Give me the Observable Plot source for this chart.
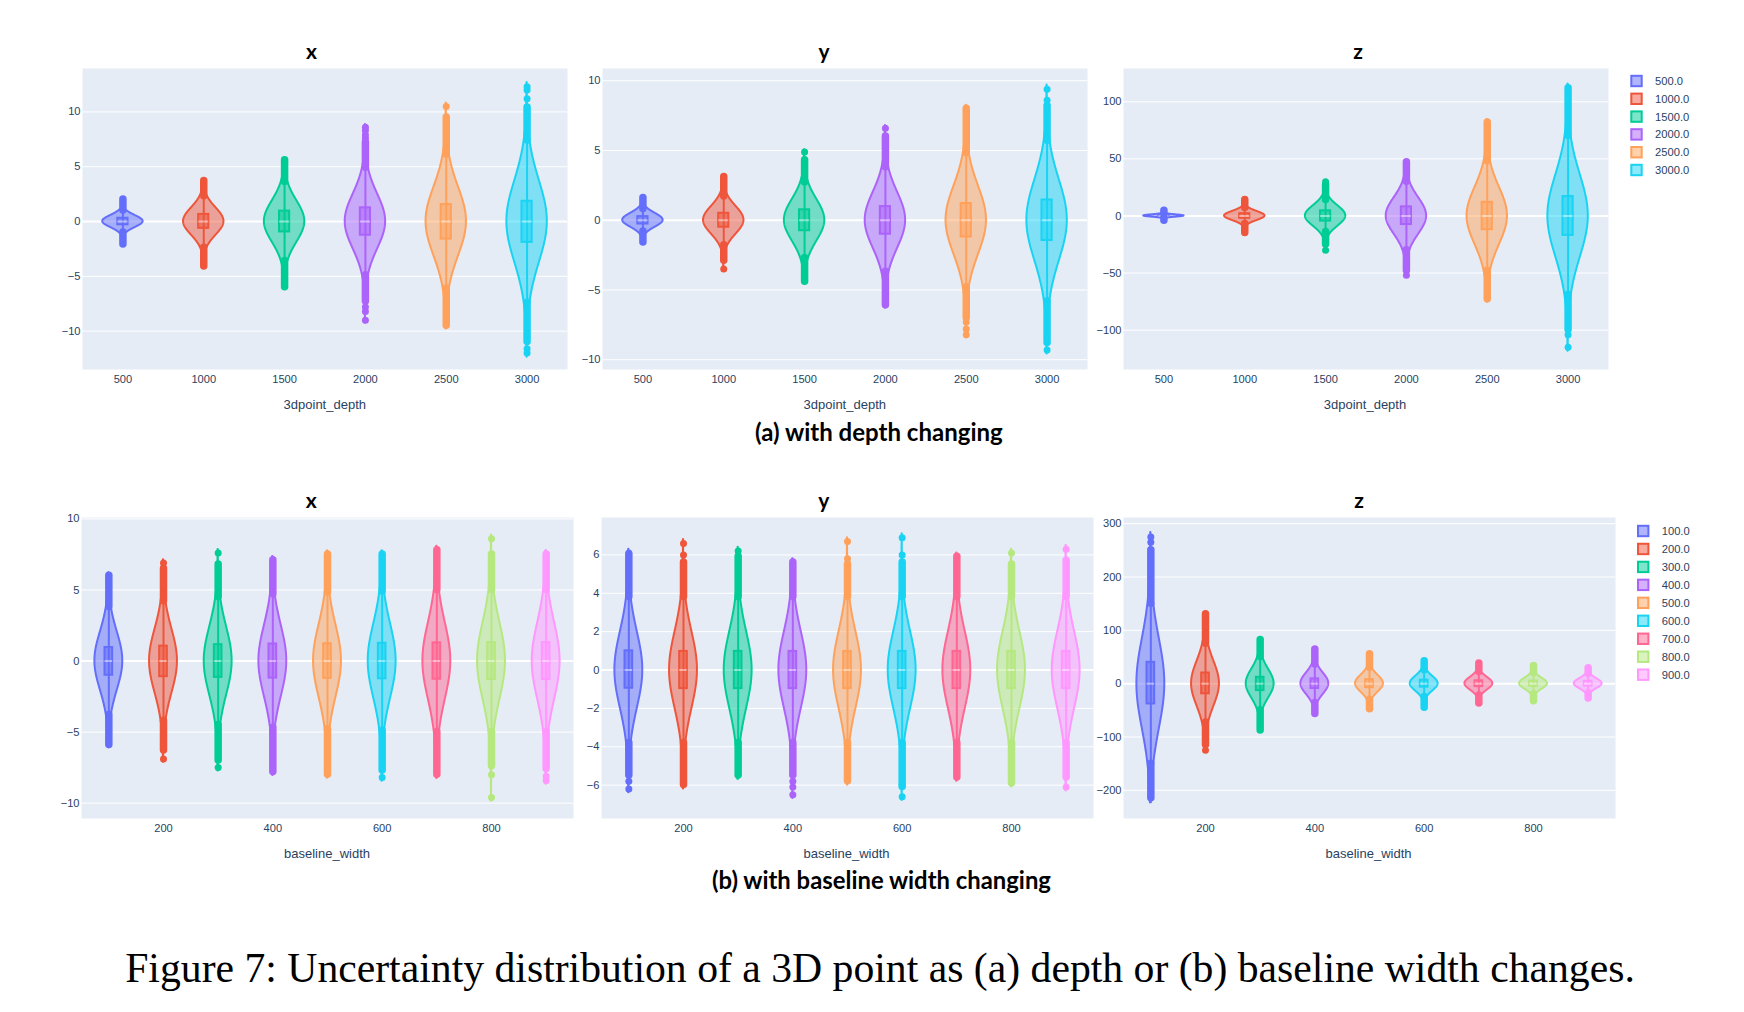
<!DOCTYPE html>
<html>
<head>
<meta charset="utf-8">
<script src="https://cdn.jsdelivr.net/npm/d3@7"></script>
<script src="https://cdn.jsdelivr.net/npm/@observablehq/plot@0.6"></script>
<style>
  html, body { margin: 0; padding: 0; background: #fff; }
  #fig { position: relative; width: 1744px; height: 1012px; overflow: hidden; background: #fff; }
</style>
</head>
<body>
<div id="fig"></div>
<script>
// ---------------- data ----------------
const depthCats = [500, 1000, 1500, 2000, 2500, 3000];
const widthCats = [100, 200, 300, 400, 500, 600, 700, 800, 900];
const seriesColors = ["#636efa", "#EF553B", "#00cc96", "#ab63fa", "#FFA15A", "#19d3f3", "#FF6692", "#B6E880", "#FF97FF"];

const depthTicks = [500, 1000, 1500, 2000, 2500, 3000];
const widthTicks = [200, 400, 600, 800];
const depthXYTicks = [-10, -5, 0, 5, 10];
const depthYYTicks = [-10, -5, 0, 5, 10];
const depthZYTicks = [-100, -50, 0, 50, 100];
const widthXYTicks = [-10, -5, 0, 5, 10];
const widthYYTicks = [-6, -4, -2, 0, 2, 4, 6];
const widthZYTicks = [-200, -100, 0, 100, 200, 300];

// rows: [category, spread (sd of violin outline), q1, median, q3, lower whisker, upper whisker]
const depthXStats = [
  [500, 0.55, -0.3, 0, 0.3, -0.9, 0.9],
  [1000, 1.25, -0.62, 0, 0.65, -2.3, 2.2],
  [1500, 1.9, -0.95, 0, 0.95, -3.5, 3.5],
  [2000, 2.5, -1.25, 0, 1.25, -4.8, 4.8],
  [2500, 3.15, -1.6, 0, 1.55, -6.0, 6.0],
  [3000, 3.75, -1.9, 0, 1.85, -7.3, 7.3]
];
// dense outlier runs: [category, from, to]
const depthXDense = [
  [500, 1.0, 2.0], [500, -1.0, -2.1],
  [1000, 2.3, 3.7], [1000, -2.4, -4.1],
  [1500, 3.6, 5.6], [1500, -3.6, -6.0],
  [2000, 4.9, 7.2], [2000, -4.9, -7.3],
  [2500, 6.1, 9.5], [2500, -6.1, -9.5],
  [3000, 7.4, 10.4], [3000, -7.4, -11.0]
];
// isolated outliers: [category, value]
const depthXDots = [
  [2000, 7.6], [2000, 7.9], [2000, 8.3], [2000, 8.6], [2000, -7.8], [2000, -8.2], [2000, -9.0],
  [2500, 10.5], [3000, 11.2], [3000, 12.0], [3000, 12.3], [3000, -11.6], [3000, -12.0]
];

const depthYStats = [
  [500, 0.5, -0.27, 0, 0.26, -0.75, 0.75],
  [1000, 1.0, -0.5, 0, 0.5, -1.7, 1.6],
  [1500, 1.5, -0.75, 0, 0.75, -2.6, 2.6],
  [2000, 2.0, -1.0, 0, 0.98, -3.6, 3.7],
  [2500, 2.45, -1.2, 0, 1.2, -4.7, 4.7],
  [3000, 2.9, -1.45, 0, 1.45, -5.7, 5.6]
];
const depthYDense = [
  [500, 0.8, 1.6], [500, -0.8, -1.6],
  [1000, 1.7, 3.1], [1000, -1.8, -2.9],
  [1500, 2.7, 4.3], [1500, -2.7, -4.4],
  [2000, 3.8, 6.0], [2000, -3.7, -6.1],
  [2500, 4.8, 8.0], [2500, -4.8, -7.0],
  [3000, 5.7, 8.2], [3000, -5.8, -8.8]
];
const depthYDots = [
  [1000, -3.5], [1500, 4.9], [2000, 6.6], [2500, -7.3], [2500, -7.8], [2500, -8.2],
  [3000, 8.6], [3000, 9.4], [3000, -9.3]
];

const depthZStats = [
  [500, 1.0, -0.47, 0, 0.47, -1.8, 1.8],
  [1000, 4.0, -2.0, 0, 2.0, -6.5, 6.5],
  [1500, 9, -4.5, 0, 4.5, -13, 13],
  [2000, 16, -7.5, 0, 8, -29, 29],
  [2500, 25, -12, 0, 12, -47, 47],
  [3000, 36, -17, 0, 17, -68, 69]
];
const depthZDense = [
  [500, 2, 4.5], [500, -2, -4.2],
  [1000, 7, 14], [1000, -7, -15],
  [1500, 14, 27], [1500, -14, -25],
  [2000, 30, 47], [2000, -30, -48],
  [2500, 48, 82], [2500, -48, -73],
  [3000, 70, 112], [3000, -69, -100]
];
const depthZDots = [
  [1500, 30], [1500, -30], [2000, -52], [3000, -104], [3000, -115]
];

const widthXStats = [
  [100, 2.05, -1.0, 0, 0.95, -3.7, 3.7],
  [200, 2.25, -1.1, 0, 1.05, -4.1, 4.1],
  [300, 2.4, -1.15, 0, 1.15, -4.4, 4.4],
  [400, 2.5, -1.2, 0, 1.2, -4.6, 4.6],
  [500, 2.55, -1.22, 0, 1.22, -4.7, 4.7],
  [600, 2.6, -1.25, 0, 1.25, -4.8, 4.8],
  [700, 2.7, -1.28, 0, 1.28, -4.9, 4.9],
  [800, 2.7, -1.3, 0, 1.3, -4.9, 4.9],
  [900, 2.7, -1.3, 0, 1.3, -4.9, 4.9]
];
const widthXDense = [
  [100, 3.8, 6.0], [100, -3.8, -5.9],
  [200, 4.2, 6.5], [200, -4.2, -6.3],
  [300, 4.5, 6.8], [300, -4.5, -7.0],
  [400, 4.7, 7.1], [400, -4.7, -7.8],
  [500, 4.8, 7.5], [500, -4.8, -8.0],
  [600, 4.9, 7.5], [600, -4.9, -7.7],
  [700, 5.0, 7.8], [700, -5.0, -8.0],
  [800, 5.0, 7.5], [800, -5.0, -7.4],
  [900, 5.0, 7.5], [900, -5.0, -7.6]
];
const widthXDots = [
  [200, 6.9], [200, -6.9], [300, 7.6], [300, -7.5], [600, -8.2],
  [800, 8.6], [800, -8.0], [800, -9.6], [900, -8.1], [900, -8.4]
];

const widthYStats = [
  [100, 2.0, -0.95, 0, 1.0, -3.7, 3.7],
  [200, 2.0, -0.97, 0, 0.97, -3.7, 3.7],
  [300, 2.0, -0.97, 0, 0.97, -3.7, 3.7],
  [400, 2.0, -0.97, 0, 0.97, -3.7, 3.7],
  [500, 2.0, -0.97, 0, 0.97, -3.7, 3.7],
  [600, 2.0, -0.97, 0, 0.97, -3.7, 3.7],
  [700, 2.0, -0.97, 0, 0.97, -3.7, 3.7],
  [800, 2.0, -0.97, 0, 0.97, -3.7, 3.7],
  [900, 2.0, -0.97, 0, 0.97, -3.7, 3.7]
];
const widthYDense = [
  [100, 3.8, 6.0], [100, -3.8, -5.5],
  [200, 3.8, 5.6], [200, -3.8, -6.0],
  [300, 3.8, 5.9], [300, -3.8, -5.5],
  [400, 3.8, 5.6], [400, -3.8, -5.5],
  [500, 3.8, 5.5], [500, -3.8, -5.8],
  [600, 3.8, 5.6], [600, -3.8, -6.1],
  [700, 3.8, 5.9], [700, -3.8, -5.6],
  [800, 3.8, 5.5], [800, -3.8, -5.9],
  [900, 3.8, 5.7], [900, -3.8, -5.6]
];
const widthYDots = [
  [100, 6.1], [100, -5.8], [100, -6.2], [200, 6.0], [200, 6.6], [300, 6.2],
  [400, -5.8], [400, -6.1], [400, -6.5], [500, 5.8], [500, 6.7],
  [600, 6.0], [600, 6.9], [600, -6.0], [600, -6.6], [800, 6.1], [900, 6.3], [900, -6.1]
];

const widthZStats = [
  [100, 85, -38, 0, 40, -148, 148],
  [200, 42, -19, 0, 20, -72, 74],
  [300, 27, -13, 0, 12, -49, 49],
  [400, 20, -9, 0, 9, -35, 35],
  [500, 16, -7.5, 0, 7.5, -29, 29],
  [600, 14, -6.5, 0, 6.5, -24, 24],
  [700, 12, -5.5, 0, 5.5, -21, 21],
  [800, 10.5, -5, 0, 5, -19, 19],
  [900, 9.5, -4.5, 0, 4.5, -17, 17]
];
const widthZDense = [
  [100, 150, 250], [100, -150, -215],
  [200, 75, 130], [200, -73, -115],
  [300, 50, 82], [300, -50, -88],
  [400, 36, 64], [400, -36, -57],
  [500, 30, 55], [500, -30, -48],
  [600, 25, 42], [600, -25, -45],
  [700, 22, 38], [700, -22, -37],
  [800, 20, 33], [800, -20, -33],
  [900, 18, 29], [900, -18, -28]
];
const widthZDots = [
  [100, 265], [100, 275], [200, -125]
];

// ---------------- layout ----------------
const FONT = "'Liberation Sans', Arial, Helvetica, sans-serif";
const TEXT_COLOR = "#2a3f5f";
const fig = document.getElementById("fig");

const overlay = d3.select(fig).append("svg")
  .attr("width", 1744).attr("height", 1012)
  .style("position", "absolute").style("left", "0px").style("top", "0px");

function makePanel(p) {
  const ML = 45, MR = 5, MT = 10, MB = 50;
  const outline = [];
  p.stats.forEach(([c, sd, q1, med, q3, lw, uw]) => {
    const vals = [lw, uw]
      .concat(p.dense.filter(d => d[0] === c).flatMap(d => [d[1], d[2]]))
      .concat(p.dots.filter(d => d[0] === c).map(d => d[1]));
    const lo = d3.min(vals) - 0.1 * sd, hi = d3.max(vals) + 0.1 * sd;
    const n = 220;
    for (let i = 0; i <= n; i++) {
      const y = lo + (hi - lo) * i / n;
      const w = p.halfW * Math.exp(-((y - med) ** 2) / (2 * sd * sd));
      outline.push({c, y, x1: c - w, x2: c + w});
    }
  });
  const chart = Plot.plot({
    width: ML + p.plotW + MR,
    height: MT + p.plotH + MB,
    marginLeft: ML, marginRight: MR, marginTop: MT, marginBottom: MB,
    style: {background: "transparent", color: TEXT_COLOR, fontFamily: FONT, fontSize: "11.1px", overflow: "visible"},
    x: {domain: p.xDomain, ticks: p.xTicks, tickFormat: d3.format("d"), tickSize: 0, tickPadding: 6, label: null},
    y: {domain: p.yDomain, ticks: p.yTicks, tickFormat: d3.format("d"), tickSize: 0, tickPadding: 2, label: null},
    color: {type: "ordinal", domain: p.cats, range: seriesColors.slice(0, p.cats.length)},
    marks: [
      Plot.frame({fill: "#E5ECF6", stroke: null}),
      Plot.gridY(p.yTicks, {stroke: "white", strokeOpacity: 1, strokeWidth: 1}),
      Plot.ruleY([0], {stroke: "white", strokeWidth: 2}),
      Plot.areaX(outline, {y: "y", x1: "x1", x2: "x2", z: "c", fill: "c", fillOpacity: 0.5, stroke: "c", strokeWidth: 2, strokeLinejoin: "round"}),
      Plot.ruleX(p.stats, {x: d => d[0], y1: d => d[5], y2: d => d[6], stroke: d => d[0], strokeWidth: 2}),
      Plot.rect(p.stats, {x1: d => d[0] - p.boxW, x2: d => d[0] + p.boxW, y1: d => d[2], y2: d => d[4], fill: d => d[0], fillOpacity: 0.55, stroke: d => d[0], strokeWidth: 2}),
      Plot.ruleY(p.stats, {y: d => d[3], x1: d => d[0] - p.boxW, x2: d => d[0] + p.boxW, stroke: "white", strokeOpacity: 0.45, strokeWidth: 2}),
      Plot.ruleX(p.dense, {x: d => d[0], y1: d => d[1], y2: d => d[2], stroke: d => d[0], strokeWidth: 7.5, strokeLinecap: "round"}),
      Plot.dot(p.dots, {x: d => d[0], y: d => d[1], fill: d => d[0], r: 3.5})
    ]
  });
  chart.style.position = "absolute";
  chart.style.left = (p.left - ML) + "px";
  chart.style.top = (p.top - MT) + "px";
  fig.appendChild(chart);

  // subplot title
  overlay.append("text")
    .attr("x", p.titleX).attr("y", p.titleY)
    .attr("text-anchor", "middle")
    .style("font-family", "Lato, 'Open Sans', sans-serif").style("font-weight", 700).style("font-size", "21px")
    .attr("fill", "#000").text(p.title);
  // x axis title
  overlay.append("text")
    .attr("x", p.left + p.plotW / 2).attr("y", p.top + p.plotH + 39.5)
    .attr("text-anchor", "middle")
    .style("font-family", FONT).style("font-size", "13px")
    .attr("fill", TEXT_COLOR).text(p.xLabel);
}

const TOP = 68, TOP_H = 301, BOT = 517, BOT_H = 301;
makePanel({stats: depthXStats, dense: depthXDense, dots: depthXDots, cats: depthCats,
  xDomain: [250, 3250], xTicks: depthTicks, yDomain: [-13.5, 13.96], yTicks: depthXYTicks,
  halfW: 125, boxW: 31.5, left: 82.3, top: TOP, plotW: 485, plotH: TOP_H,
  title: "x", titleX: 311.5, titleY: 59.3, xLabel: "3dpoint_depth"});
makePanel({stats: depthYStats, dense: depthYDense, dots: depthYDots, cats: depthCats,
  xDomain: [250, 3250], xTicks: depthTicks, yDomain: [-10.7, 10.88], yTicks: depthYYTicks,
  halfW: 125, boxW: 31.5, left: 602.3, top: TOP, plotW: 485, plotH: TOP_H,
  title: "y", titleX: 824, titleY: 59.3, xLabel: "3dpoint_depth"});
makePanel({stats: depthZStats, dense: depthZDense, dots: depthZDots, cats: depthCats,
  xDomain: [250, 3250], xTicks: depthTicks, yDomain: [-134.5, 129.2], yTicks: depthZYTicks,
  halfW: 125, boxW: 31.5, left: 1122.5, top: TOP, plotW: 485, plotH: TOP_H,
  title: "z", titleX: 1358, titleY: 59.3, xLabel: "3dpoint_depth"});
makePanel({stats: widthXStats, dense: widthXDense, dots: widthXDots, cats: widthCats,
  xDomain: [50, 950], xTicks: widthTicks, yDomain: [-11.08, 10.1], yTicks: widthXYTicks,
  halfW: 25.5, boxW: 7, left: 81, top: BOT, plotW: 492, plotH: BOT_H,
  title: "x", titleX: 311.3, titleY: 508.3, xLabel: "baseline_width"});
makePanel({stats: widthYStats, dense: widthYDense, dots: widthYDots, cats: widthCats,
  xDomain: [50, 950], xTicks: widthTicks, yDomain: [-7.74, 7.95], yTicks: widthYYTicks,
  halfW: 25.5, boxW: 7, left: 600.5, top: BOT, plotW: 492, plotH: BOT_H,
  title: "y", titleX: 823.8, titleY: 508.3, xLabel: "baseline_width"});
makePanel({stats: widthZStats, dense: widthZDense, dots: widthZDots, cats: widthCats,
  xDomain: [50, 950], xTicks: widthTicks, yDomain: [-252.8, 311.6], yTicks: widthZYTicks,
  halfW: 25.5, boxW: 7, left: 1122.5, top: BOT, plotW: 492, plotH: BOT_H,
  title: "z", titleX: 1359, titleY: 508.3, xLabel: "baseline_width"});

// ---------------- legends ----------------
function legend(cats, sqX, textX, y0, step) {
  const fmt = d3.format(".1f");
  cats.forEach((c, i) => {
    const col = seriesColors[i];
    const cy = y0 + i * step;
    overlay.append("rect")
      .attr("x", sqX + 1).attr("y", cy - 5.2).attr("width", 10.4).attr("height", 10.4)
      .attr("fill", col).attr("fill-opacity", 0.5).attr("stroke", col).attr("stroke-width", 2);
    overlay.append("text")
      .attr("x", textX).attr("y", cy + 4)
      .style("font-family", FONT).style("font-size", "11.2px")
      .attr("fill", TEXT_COLOR).text(fmt(c));
  });
}
legend(depthCats, 1630.3, 1655, 81, 17.8);
legend(widthCats, 1637, 1661.7, 531, 17.96);

// ---------------- captions ----------------
function fitText(sel, target) {
  const node = sel.node();
  const len = node.getComputedTextLength();
  const fs = parseFloat(sel.style("font-size"));
  if (len > 0) sel.style("font-size", (fs * target / len) + "px");
}
const capA = overlay.append("text").attr("x", 878.9).attr("y", 440.5).attr("text-anchor", "middle")
  .style("font-family", "Lato, 'Open Sans', sans-serif").style("font-weight", 700).style("font-size", "22px")
  .attr("fill", "#000").text("(a) with depth changing");
fitText(capA, 247.7);
const capB = overlay.append("text").attr("x", 881.5).attr("y", 889).attr("text-anchor", "middle")
  .style("font-family", "Lato, 'Open Sans', sans-serif").style("font-weight", 700).style("font-size", "22px")
  .attr("fill", "#000").text("(b) with baseline width changing");
fitText(capB, 339);
const capFig = overlay.append("text").attr("x", 880).attr("y", 981.5).attr("text-anchor", "middle")
  .style("font-family", "'Liberation Serif', 'Times New Roman', serif").style("font-size", "38px")
  .attr("fill", "#000").text("Figure 7: Uncertainty distribution of a 3D point as (a) depth or (b) baseline width changes.");
fitText(capFig, 1510);
</script>
</body>
</html>
